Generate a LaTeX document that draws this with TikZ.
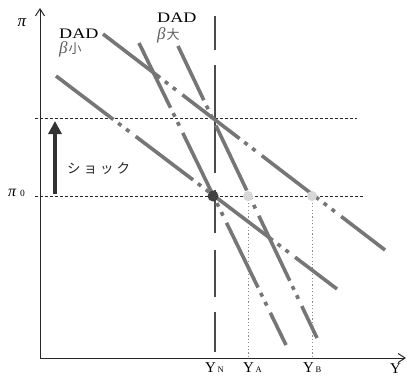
\documentclass[tikz,border=0pt]{standalone}
\usepackage{fontspec}
\setmainfont{Liberation Serif}
\newfontfamily\jp{Noto Sans CJK JP}
\usetikzlibrary{arrows.meta}
\definecolor{lineg}{RGB}{118,118,118}
\definecolor{labg}{RGB}{95,95,95}
\definecolor{darkdot}{RGB}{65,65,65}
\definecolor{lightdot}{RGB}{215,215,215}
\begin{document}
\begin{tikzpicture}[x=1pt,y=-1pt,
  adline/.style={draw=lineg,line width=3.6pt,
    dash pattern=on 72pt off 6pt on 4pt off 6pt on 4pt off 8pt},
  guide/.style={draw=black!85,line width=0.9pt,dash pattern=on 2.5pt off 2.5pt},
  lguide/.style={draw=black!45,line width=0.8pt,dash pattern=on 1.2pt off 2.2pt},
  axis/.style={draw=black!85,line width=1pt},
  lbl/.style={inner sep=0pt,font=\fontsize{17}{17}\selectfont\itshape},
  dadlbl/.style={inner sep=0pt,anchor=west,font=\fontsize{14.5}{14.5}\selectfont},
  betalbl/.style={inner sep=0pt,anchor=west,text=labg,font=\fontsize{17}{17}\selectfont},
  ylbl/.style={inner sep=0pt,anchor=base west,font=\fontsize{15}{15}\selectfont}]
\useasboundingbox (0,0) rectangle (407,378);
\clip (0,0) rectangle (407,378);
\fill[white] (0,0) rectangle (407,378);

% coordinates
\coordinate (O) at (40,358);
\coordinate (ytop) at (40,8);
\coordinate (xend) at (406,358);
\coordinate (E0) at (213,196);
\coordinate (EA) at (248,196);
\coordinate (EB) at (312,196);
\coordinate (AA) at (248,358);
\coordinate (BB) at (312,358);
\coordinate (h1s) at (35,118);
\coordinate (h1e) at (357,118);
\coordinate (h0s) at (35,196);
\coordinate (h0e) at (364,196);

% guides
\draw[guide] (h1s) -- (h1e);
\draw[guide] (h0s) -- (h0e);
\draw[lguide] (EA) -- (AA);
\draw[lguide] (EB) -- (BB);

% Y_N vertical long-dashed line
\foreach \a/\b in {16/50,65/173,190/233,250/297,312/352}
  \draw[draw=black!70,line width=1.3pt] (215,\a) -- (215,\b);

% axes
\draw[axis,-{Straight Barb[length=7pt,width=9pt]}] (O) -- (ytop);
\draw[axis,-{Straight Barb[length=7pt,width=9pt]}] (O) -- (xend);

% DAD lines
\coordinate (L1s) at (56,76);   \coordinate (L1e) at (337,289);
\coordinate (L2s) at (103,34);  \coordinate (L2e) at (385,250);
\coordinate (LAs) at (139,43);  \coordinate (LAe) at (286,345);
\coordinate (LBs) at (178,46);  \coordinate (LBe) at (317,338);
\draw[adline] (L1s) -- (L1e);
\draw[adline] (L2s) -- (L2e);
\draw[adline] (LAs) -- (LAe);
\draw[adline,dash phase=12pt] (LBs) -- (LBe);

% points
\fill[darkdot] (E0) circle (5.5pt);
\fill[lightdot] (EA) circle (5pt);
\fill[lightdot] (EB) circle (5pt);

% shock arrow
\coordinate (sh0) at (55,194);
\coordinate (sh1) at (55,121);
\draw[draw=black!80,line width=4pt,-{Triangle[length=13pt,width=13pt]}] (sh0) -- (sh1);
\node[inner sep=0pt,anchor=west,font=\jp\fontsize{13.5}{13.5}\selectfont,text=black!85] (shock) at (67,169)
  {シ\hspace{3pt}ョ\hspace{3pt}ッ\hspace{3pt}ク};

% axis labels
\node[lbl] (pitop) at (22,23) {π};
\node[inner sep=0pt,anchor=west] (pi0) at (8,193)
  {{\fontsize{16}{16}\selectfont\itshape π}\hspace{4pt}{\fontsize{9.5}{9.5}\selectfont 0}};
\node[ylbl] (YN) at (205,372) {Y\hspace{1.5pt}{\fontsize{8.5}{8.5}\selectfont N}};
\node[ylbl] (YA) at (243,372) {Y\hspace{1.5pt}{\fontsize{8.5}{8.5}\selectfont A}};
\node[ylbl] (YB) at (303,372) {Y\hspace{1.5pt}{\fontsize{8.5}{8.5}\selectfont B}};
\node[ylbl] (Yax) at (390,373) {Y};

% DAD labels
\node[dadlbl] (dad1) at (59,33.5) {\scalebox{1.25}[1]{DAD}};
\node[betalbl] (b1) at (59,49) {{\itshape β}\hspace{1pt}{\jp\fontsize{13}{13}\selectfont 小}};
\node[dadlbl] (dad2) at (157,18) {\scalebox{1.25}[1]{DAD}};
\node[betalbl] (b2) at (157,35) {{\itshape β}\hspace{1pt}{\jp\fontsize{13}{13}\selectfont 大}};
\end{tikzpicture}
\end{document}
